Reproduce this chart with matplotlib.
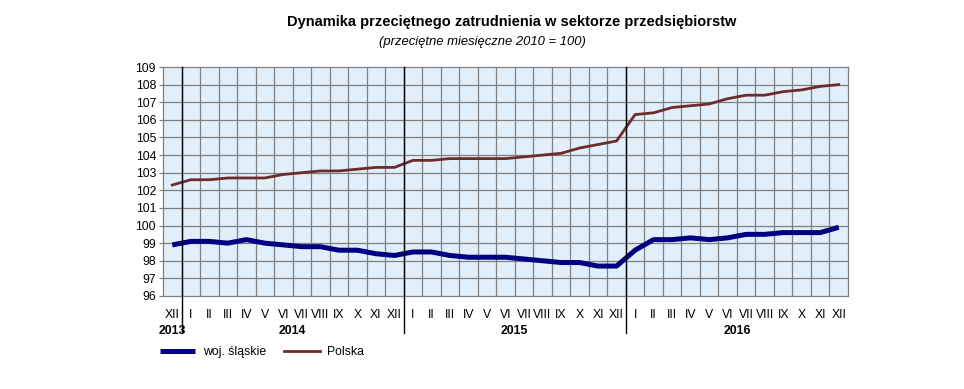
import matplotlib
matplotlib.use("Agg")
import matplotlib.pyplot as plt
import numpy as np

plt.rcParams['font.family'] = ['Liberation Sans', 'DejaVu Sans']

months = ["XII", "I", "II", "III", "IV", "V", "VI", "VII", "VIII", "IX", "X", "XI", "XII",
          "I", "II", "III", "IV", "V", "VI", "VII", "VIII", "IX", "X", "XI", "XII",
          "I", "II", "III", "IV", "V", "VI", "VII", "VIII", "IX", "X", "XI", "XII"]
years = ["2013", "2014", "2015", "2016"]
year_spans = [(0, 1), (1, 13), (13, 25), (25, 37)]

polska = [102.3,
          102.6, 102.6, 102.7, 102.7, 102.7, 102.9, 103.0, 103.1, 103.1, 103.2, 103.3, 103.3,
          103.7, 103.7, 103.8, 103.8, 103.8, 103.8, 103.9, 104.0, 104.1, 104.4, 104.6, 104.8,
          106.3, 106.4, 106.7, 106.8, 106.9, 107.2, 107.4, 107.4, 107.6, 107.7, 107.9, 108.0]
slaskie = [98.9,
           99.1, 99.1, 99.0, 99.2, 99.0, 98.9, 98.8, 98.8, 98.6, 98.6, 98.4, 98.3,
           98.5, 98.5, 98.3, 98.2, 98.2, 98.2, 98.1, 98.0, 97.9, 97.9, 97.7, 97.7,
           98.6, 99.2, 99.2, 99.3, 99.2, 99.3, 99.5, 99.5, 99.6, 99.6, 99.6, 99.9]

W, H = 964, 389
fig = plt.figure(figsize=(W / 100, H / 100), dpi=100)
ax = fig.add_axes([163 / W, 1 - 296 / H, (848 - 163) / W, (296 - 67) / H])
ax.set_facecolor('#E1EFFA')

n = len(months)
x = np.arange(n) + 0.5
ax.set_xlim(0, n)
ax.set_ylim(96, 109)

# grid
for b in range(1, n):
    ax.axvline(b, color='#7F7F7F', lw=0.9, zorder=1)
for yv in range(97, 109):
    ax.axhline(yv, color='#7F7F7F', lw=0.9, zorder=1)

l1, = ax.plot(x, slaskie, color='#000080', lw=3.6, solid_capstyle='butt', zorder=3)
l2, = ax.plot(x, polska, color='#6E2B2B', lw=2.0, zorder=3)

ax.set_yticks(range(96, 110))
ax.set_yticklabels([str(v) for v in range(96, 110)], fontsize=8.8)
ax.tick_params(axis='y', length=3, width=0.8, color='#7F7F7F', pad=2)
ax.set_xticks([])
for s in ['top', 'right', 'bottom', 'left']:
    ax.spines[s].set_color('#7F7F7F')
    ax.spines[s].set_linewidth(0.9)

# month labels
for i, m in enumerate(months):
    ax.text(x[i], -0.055, m, transform=ax.get_xaxis_transform(), ha='center', va='top', fontsize=8.8)

# year labels
for (a, b), yr in zip(year_spans, years):
    ax.text((a + b) / 2, -0.125, yr, transform=ax.get_xaxis_transform(), ha='center', va='top',
            fontsize=8.8, fontweight='bold')

# year separators extending below axis
for b in [1, 13, 25]:
    ax.plot([b, b], [1.0, -0.16], transform=ax.get_xaxis_transform(), color='black', lw=1.0,
            clip_on=False, zorder=4)

fig.text(512 / W, 1 - 22 / H, "Dynamika przeciętnego zatrudnienia w sektorze przedsiębiorstw",
         ha='center', va='center', fontsize=10.5, fontweight='bold')
fig.text(482 / W, 1 - 42 / H, "(przeciętne miesięczne 2010 = 100)",
         ha='center', va='center', fontsize=9.4, style='italic')

leg = fig.legend([l1, l2], ["woj. śląskie", "Polska"], loc='center left',
                 bbox_to_anchor=(160 / W, 1 - 352 / H), ncol=2, frameon=False,
                 fontsize=8.8, handlelength=2.9, columnspacing=1.5, handletextpad=0.6,
                 borderpad=0, borderaxespad=0)

fig.savefig("out.png", dpi=100)
